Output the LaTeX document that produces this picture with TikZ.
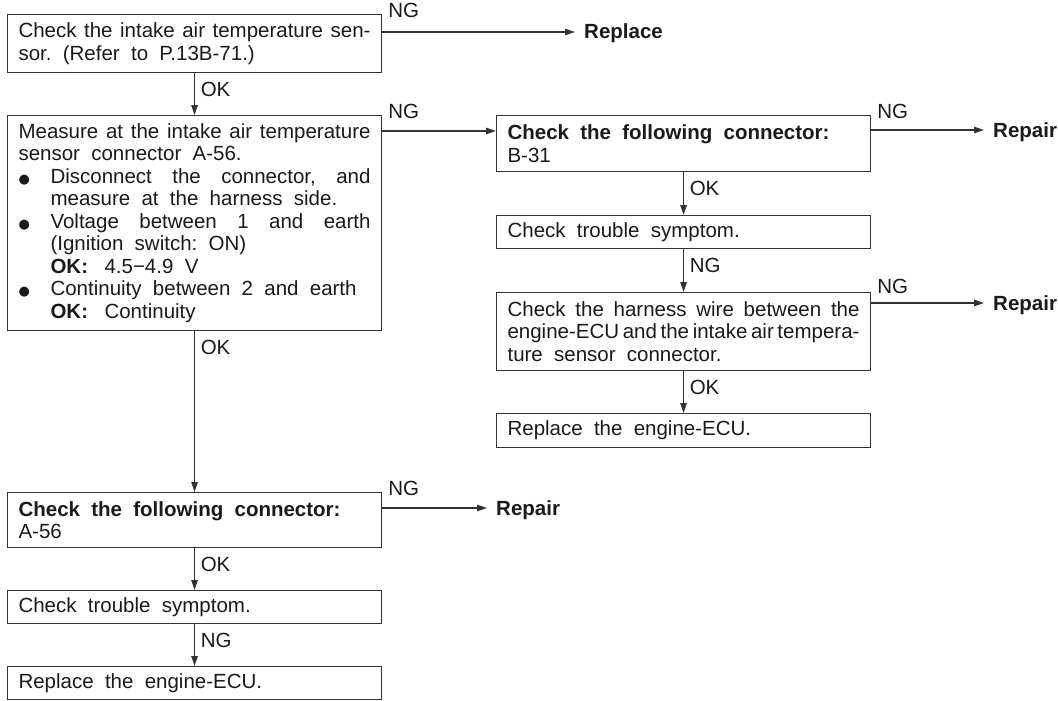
\documentclass[tikz,border=0pt]{standalone}
\usepackage{fontspec}
\setmainfont{Liberation Sans}
\newfontfamily\symfont{DejaVu Sans}
\usetikzlibrary{arrows.meta,calc}

\definecolor{linec}{HTML}{333333}
\definecolor{txtc}{HTML}{1A1A1A}

% text of the boxes: Arial-like, wide word spacing, no hyphenation
\newcommand{\boxfont}{\fontsize{20.5pt}{22.5pt}\selectfont\frenchspacing
  \spaceskip=0.55em plus 0.5em minus 0.4em\relax
  \hyphenpenalty=10000\exhyphenpenalty=10000\relax}
% bullet item with hanging indent
\newcommand{\bitem}{\noindent\hangindent=32pt\hangafter=1%
  \makebox[32pt][l]{{\symfont\fontsize{13pt}{13pt}\selectfont ●}}}

\begin{document}
\begin{tikzpicture}[x=1pt,y=-1pt,
  box/.style={draw=linec, line width=1.1pt, anchor=north west,
    minimum width=374pt, text width=352pt, inner xsep=11pt, inner ysep=0pt,
    align=justify, font=\boxfont, text=txtc},
  res/.style={anchor=west, font=\boxfont\bfseries, text=txtc,
    text height=14pt, text depth=0pt, inner xsep=9pt, inner ysep=0pt},
  lab/.style={anchor=base west, font=\boxfont, text=txtc, inner sep=0pt},
  arr/.style={draw=linec, line width=1.1pt, -{Triangle[length=10pt,width=6.5pt]}}]
\useasboundingbox (0,0) rectangle (1058,701);

% ---- left column ----
\node[box, minimum height=58pt] (b1) at (7,14)
  {Check the intake air temperature sen-\linebreak sor. (Refer to P.13B-71.)};
\node[box, minimum height=215pt] (b2) at (7,115)
  {Measure at the intake air temperature\linebreak sensor connector A-56.\par
   \bitem Disconnect the connector, and\linebreak measure at the harness side.\par
   \bitem Voltage between 1 and earth\linebreak (Ignition switch: ON)\\
     \textbf{OK:}\hspace{0.8em}4.5−4.9 V\par
   \bitem Continuity between 2 and earth\\
     \textbf{OK:}\hspace{0.8em}Continuity\par};
\node[box, minimum height=55pt] (b7) at (7,492)
  {\textbf{Check the following connector:}\\A-56};
\node[box, minimum height=33pt] (b8) at (7,590) {Check trouble symptom.};
\node[box, minimum height=33pt] (b9) at (7,666) {Replace the engine-ECU.};

% ---- right column ----
\node[box, minimum height=56pt] (b3) at (496,115)
  {\textbf{Check the following connector:}\\B-31};
\node[box, minimum height=33pt] (b4) at (496,215) {Check trouble symptom.};
\node[box, minimum height=78pt] (b5) at (496,292)
  {Check the harness wire between the\linebreak engine-ECU and the intake air tempera-\linebreak ture sensor connector.};
\node[box, minimum height=34pt] (b6) at (496,413) {Replace the engine-ECU.};

% ---- results ----
\node[res] (rep1) at (575,32) {Replace};
\node[res] (rep3) at (984,130) {Repair};
\node[res] (rep5) at (984,303) {Repair};
\node[res] (rep7) at (487,508) {Repair};

% ---- vertical connectors ----
\draw[arr] (b1) -- (b2);
\node[lab] at ($(b1.south)+(6,23)$) {OK};
\draw[arr] (b2) -- (b7);
\node[lab] at ($(b2.south)+(6,23)$) {OK};
\draw[arr] (b7) -- (b8);
\node[lab] at ($(b7.south)+(6,23)$) {OK};
\draw[arr] (b8) -- (b9);
\node[lab] at ($(b8.south)+(6,23)$) {NG};

\draw[arr] (b3) -- (b4);
\node[lab] at ($(b3.south)+(6,23)$) {OK};
\draw[arr] (b4) -- (b5);
\node[lab] at ($(b4.south)+(6,23)$) {NG};
\draw[arr] (b5) -- (b6);
\node[lab] at ($(b5.south)+(6,23)$) {OK};

% ---- horizontal connectors ----
\draw[arr] (b1.east |- rep1.west) -- (rep1.west);
\node[lab] at ($(b1.north east)+(6,4)$) {NG};
\draw[arr] ($(b2.north east)+(0,16)$) -- ($(b3.north west)+(0,16)$);
\node[lab] at ($(b2.north east)+(6,3)$) {NG};
\draw[arr] (b3.east |- rep3.west) -- (rep3.west);
\node[lab] at ($(b3.north east)+(6,3)$) {NG};
\draw[arr] (b5.east |- rep5.west) -- (rep5.west);
\node[lab] at ($(b5.north east)+(6,1)$) {NG};
\draw[arr] (b7.east |- rep7.west) -- (rep7.west);
\node[lab] at ($(b7.north east)+(6,3)$) {NG};
\end{tikzpicture}
\end{document}
